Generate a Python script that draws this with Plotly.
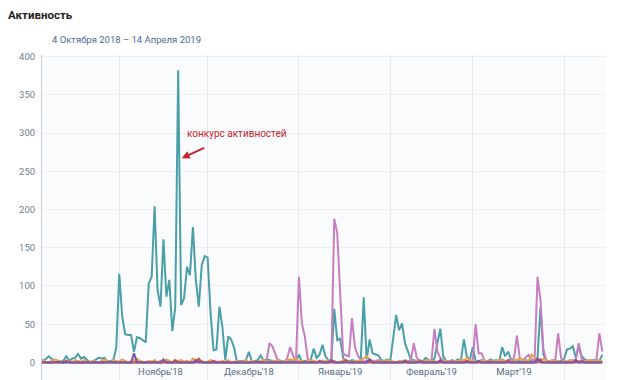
import pandas as pd
import plotly.graph_objects as go

start_date = "2018-10-04"
n_days = 193

teal = [4,3,3,4,8,5,1,0,1,2,
        8,2,5,6,11,5,7,4,0,1,
        3,6,5,6,1,2,3,20,116,60,
        37,36,36,14,33,32,29,26,103,112,
        204,95,73,161,86,108,41,72,382,75,
        84,125,114,177,108,73,127,139,137,65,
        16,17,73,47,3,34,30,19,0,2,
        1,3,14,1,2,3,9,2,4,3,
        2,1,3,2,1,2,3,1,2,10,
        1,2,1,3,18,6,10,23,8,3,
        1,70,29,31,6,2,1,3,2,1,
        3,85,4,30,12,10,9,3,2,4,
        2,31,62,42,51,25,15,4,3,2,
        3,1,6,3,2,5,25,44,8,2,
        1,3,1,4,3,30,8,3,20,2,
        1,3,2,1,4,2,3,1,20,8,
        14,4,2,3,1,2,3,1,2,4,
        6,72,10,3,1,2,3,1,2,4,
        17,18,21,6,21,8,4,2,1,3,
        2,2,10]

pink = [0,0,1,0,0,0,1,0,0,0,
        0,1,0,0,0,0,0,1,0,0,
        0,0,0,1,0,0,0,0,1,0,
        0,0,0,0,1,0,0,0,0,1,
        0,0,0,0,1,0,0,0,0,0,
        1,0,0,0,0,0,1,0,0,0,
        0,0,1,0,0,0,0,0,1,0,
        0,0,0,1,0,0,0,0,2,25,
        21,12,1,0,1,5,20,9,1,112,
        51,34,4,2,1,0,1,2,1,0,
        3,188,169,82,12,9,8,58,20,9,
        3,1,2,1,0,2,3,1,0,1,
        2,1,0,1,2,0,1,3,25,6,
        2,1,0,1,2,44,14,6,3,2,
        1,2,0,1,2,3,1,2,3,50,
        12,12,2,1,3,2,1,2,3,1,
        2,3,5,35,5,3,6,10,4,2,
        112,82,17,2,1,3,2,38,6,2,
        1,3,2,4,25,5,2,1,3,2,
        4,38,14]

orange = [1,2,3,1,0,2,4,3,1,0,
          2,1,0,3,2,1,3,0,1,2,
          1,0,2,4,1,0,3,2,1,4,
          2,0,1,3,5,2,1,0,2,1,
          3,0,2,1,4,2,0,1,2,3,
          1,2,0,5,3,1,2,0,1,3,
          2,1,0,2,1,3,0,1,2,0,
          1,3,0,2,1,0,2,3,1,0,
          2,1,3,0,1,2,4,3,6,1,
          2,0,1,3,2,1,0,2,1,3,
          1,2,0,1,3,2,1,0,2,1,
          3,5,8,4,2,1,0,2,1,3,
          2,1,0,2,1,3,2,0,1,2,
          1,0,2,3,1,2,0,1,3,2,
          1,0,2,1,4,2,6,3,1,2,
          1,2,3,1,0,2,1,3,4,2,
          1,0,2,3,5,4,2,3,10,6,
          4,3,5,2,1,3,2,1,0,2,
          1,2,3,1,2,0,1,2,3,1,
          2,3,1]

red = [0,0,0,0,0,0,0,0,0,0,
       2,0,0,0,0,0,0,0,0,0,
       0,0,0,0,0,1,0,0,0,0,
       0,0,0,0,0,0,0,0,0,0,
       0,0,0,0,0,0,0,3,0,0,
       0,0,0,0,0,5,0,0,0,0,
       2,0,0,0,0,0,0,0,0,0,
       0,0,0,0,0,1,0,0,0,0,
       0,0,0,0,0,0,0,0,0,0,
       0,0,0,0,0,0,2,0,0,0,
       0,0,0,0,0,3,0,0,0,0,
       0,0,0,0,0,0,0,0,0,0,
       0,0,0,0,0,0,0,0,0,0,
       2,0,0,0,0,0,0,0,0,0,
       0,0,0,0,0,0,2,0,0,0,
       0,0,0,0,0,0,0,0,0,0,
       3,0,0,0,0,0,0,0,0,0,
       0,4,0,0,0,0,0,0,0,0,
       0,0,0,0,0,2,0,0,0,0,
       0,0,0]

purple = [0,0,0,0,0,0,0,1,0,0,
          0,0,0,0,0,0,0,0,0,0,
          0,0,0,0,0,0,0,0,0,0,
          0,0,0,12,0,0,0,0,0,0,
          0,0,0,4,0,0,0,0,0,0,
          0,0,0,0,3,0,0,0,0,0,
          0,0,0,0,0,0,0,0,0,0,
          0,0,0,0,0,0,0,0,0,0,
          0,0,0,0,0,0,0,0,0,0,
          0,0,0,0,0,0,0,0,0,0,
          3,0,0,0,0,0,0,0,0,0,
          0,0,0,4,0,0,0,0,0,0,
          0,0,0,0,0,2,0,0,0,0,
          0,0,0,0,0,0,0,3,0,0,
          0,0,0,0,0,0,0,0,0,0,
          2,0,0,0,0,0,0,0,0,0,
          0,0,0,0,0,0,0,0,0,0,
          5,0,0,0,0,0,0,0,0,0,
          0,0,0,3,0,0,0,0,0,0,
          0,0,0]

month_starts = ["2018-11-01", "2018-12-01", "2019-01-01", "2019-02-01", "2019-03-01", "2019-04-01"]
label_dates = ["2018-11-15", "2018-12-15", "2019-01-15", "2019-02-15", "2019-03-15"]
month_labels = ["Ноябрь'18", "Декабрь'18", "Январь'19", "Февраль'19", "Март'19"]
y_ticks = [0, 50, 100, 150, 200, 250, 300, 350, 400]

dates = pd.date_range(start_date, periods=n_days, freq="D")

series = [
    (teal, "#4b9fa7"),
    (pink, "#c77ec0"),
    (orange, "#e2a54e"),
    (red, "#cf5050"),
    (purple, "#7658a8"),
]

fig = go.Figure()
for vals, col in series:
    fig.add_trace(go.Scatter(x=dates, y=vals, mode="lines",
                             line=dict(color=col, width=2), hoverinfo="skip",
                             showlegend=False))

tick_color = "#6f7f93"
fig.update_layout(
    width=624, height=380,
    margin=dict(l=42, r=18, t=55, b=0),
    paper_bgcolor="#ffffff",
    plot_bgcolor="#fafbfc",
    font=dict(family="Roboto", size=9, color=tick_color),
    title=dict(text="<b>Активность</b>", x=8/624, xref="container", xanchor="left",
               y=1-15/380, yref="container", yanchor="middle",
               font=dict(family="Roboto", size=11.5, color="#222222")),
    xaxis=dict(
        range=["2018-10-05 18:30", "2019-04-15 06:00"],
        tickmode="array", tickvals=label_dates, ticktext=month_labels,
        showgrid=False, ticks="", ticklabelposition="inside",
        tickfont=dict(size=9.5, color="#5d6e85"),
        minor=dict(tickmode="array", tickvals=month_starts, showgrid=True,
                   gridcolor="#e6e9ef", gridwidth=1, ticks=""),
        showline=False, zeroline=False,
    ),
    yaxis=dict(
        range=[-23, 402],
        tickmode="array", tickvals=y_ticks,
        showgrid=True, gridcolor="#eceef2", gridwidth=1,
        showline=True, linecolor="#c9d0da", linewidth=1,
        zeroline=False, ticks="", ticklabelstandoff=4,
        tickfont=dict(size=9.5, color=tick_color),
    ),
    annotations=[
        dict(text="4 Октября 2018 – 14 Апреля 2019", xref="paper", yref="paper",
             x=(50-42)/564, y=(380-39)/325, xanchor="left", yanchor="middle",
             showarrow=False, font=dict(family="Roboto", size=9.5, color="#4b6a92")),
        dict(text="", x="2018-11-22 05:00", y=267, xref="x", yref="y",
             showarrow=True, ax=24, ay=-11, arrowcolor="#c4262e",
             arrowwidth=2, arrowhead=2, arrowsize=0.8),
        dict(text="конкурс активностей", x="2018-12-11 00:00", y=300, xref="x", yref="y",
             showarrow=False, font=dict(family="Roboto", size=10, color="#c4262e")),
    ],
)

fig.write_html("out.html", config={"displayModeBar": False},
               post_script="document.body.style.margin='0';document.body.style.overflow='hidden';")
